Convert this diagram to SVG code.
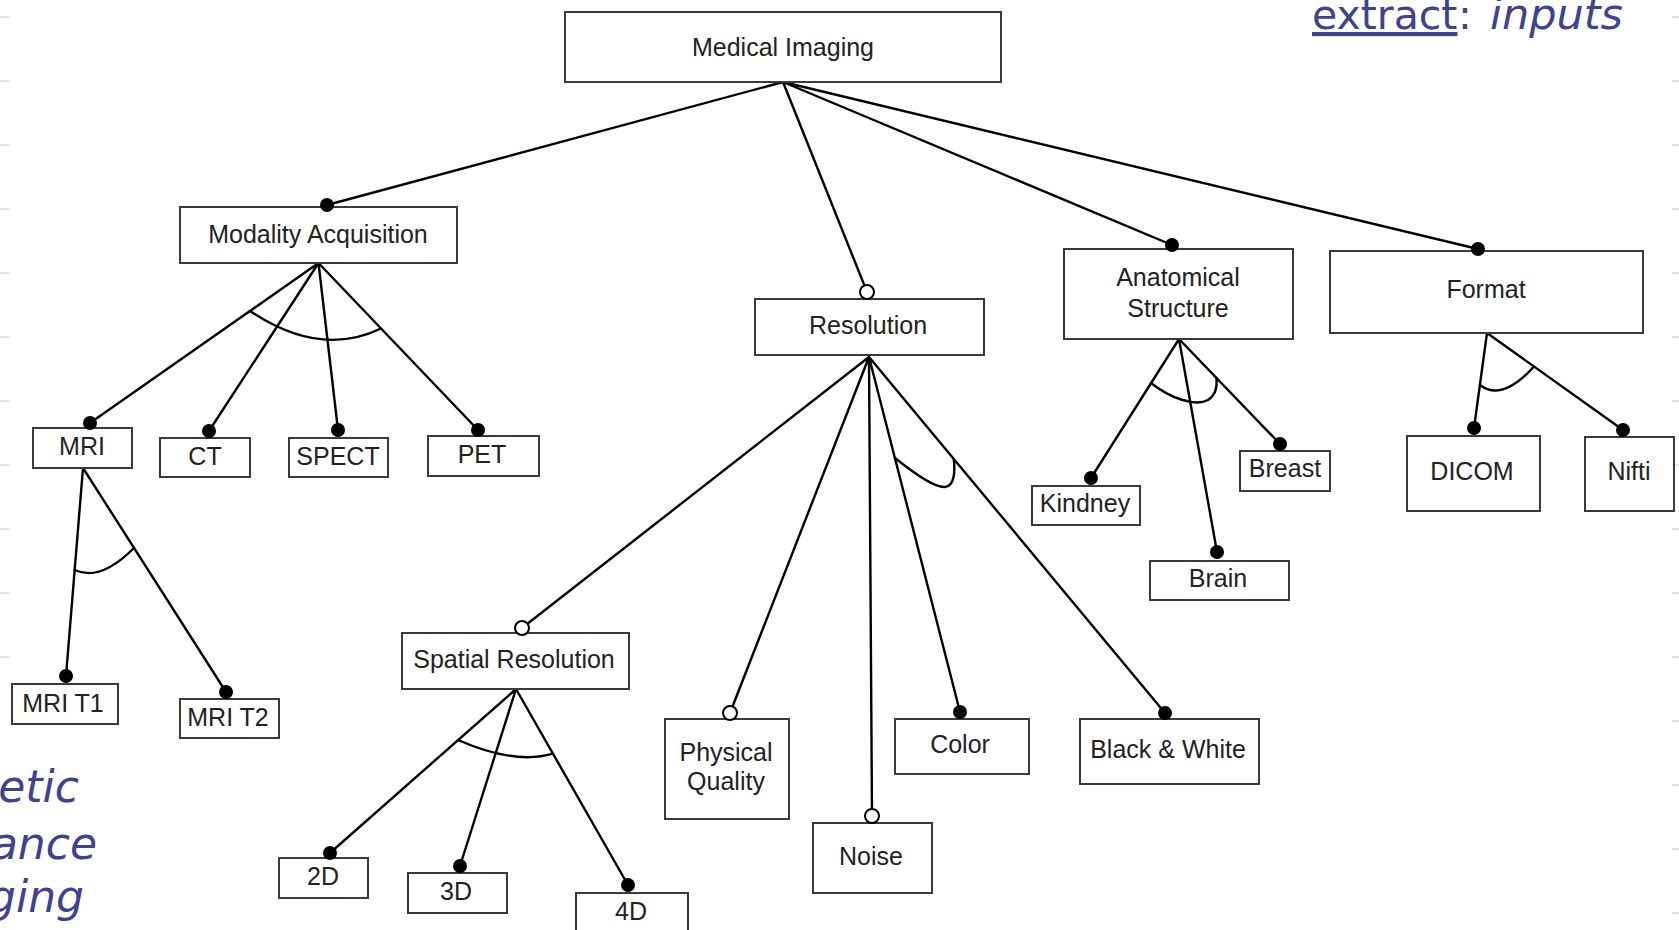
<svg xmlns="http://www.w3.org/2000/svg" width="1679" height="930" viewBox="0 0 1679 930">
<style>
.box{fill:#fff;stroke:#3a3a3a;stroke-width:2}
.lbl{font-family:"Liberation Sans",Arial,sans-serif;font-size:25px;fill:#222;text-anchor:middle}
.conn{stroke:#000;stroke-width:2.4;fill:none;stroke-linecap:round}
.dot{fill:#000}
.open{fill:#fff;stroke:#000;stroke-width:2}
.slide{font-family:"DejaVu Sans","Liberation Sans",sans-serif;fill:#3e4291}
.tick{stroke:#c9d1f2;stroke-width:1.2}
</style>
<rect x="0" y="0" width="1679" height="930" fill="#fff"/>
<g id="slide-decoration">
<g class="tick">
<line x1="0" y1="17" x2="10" y2="17"/><line x1="0" y1="81" x2="10" y2="81"/><line x1="0" y1="145" x2="10" y2="145"/><line x1="0" y1="209" x2="10" y2="209"/><line x1="0" y1="273" x2="10" y2="273"/><line x1="0" y1="337" x2="10" y2="337"/><line x1="0" y1="401" x2="10" y2="401"/><line x1="0" y1="465" x2="10" y2="465"/><line x1="0" y1="529" x2="10" y2="529"/><line x1="0" y1="593" x2="10" y2="593"/><line x1="0" y1="657" x2="10" y2="657"/>
<line x1="1672" y1="17" x2="1679" y2="17"/><line x1="1672" y1="81" x2="1679" y2="81"/><line x1="1672" y1="145" x2="1679" y2="145"/><line x1="1672" y1="209" x2="1679" y2="209"/><line x1="1672" y1="273" x2="1679" y2="273"/><line x1="1672" y1="337" x2="1679" y2="337"/><line x1="1672" y1="401" x2="1679" y2="401"/><line x1="1672" y1="465" x2="1679" y2="465"/><line x1="1672" y1="529" x2="1679" y2="529"/><line x1="1672" y1="593" x2="1679" y2="593"/><line x1="1672" y1="657" x2="1679" y2="657"/><line x1="1672" y1="721" x2="1679" y2="721"/><line x1="1672" y1="785" x2="1679" y2="785"/><line x1="1672" y1="849" x2="1679" y2="849"/><line x1="1672" y1="913" x2="1679" y2="913"/>
</g>
<text class="slide" x="1312" y="29" font-size="41" text-decoration="underline">extract</text>
<text class="slide" x="1458" y="29" font-size="41">:</text>
<text class="slide" x="1490" y="29" font-size="43" font-style="italic">inputs</text>
<text class="slide" x="79" y="802" font-size="44" font-style="italic" text-anchor="end">etic</text>
<text class="slide" x="97" y="859" font-size="44" font-style="italic" text-anchor="end">ance</text>
<text class="slide" x="84" y="912" font-size="44" font-style="italic" text-anchor="end">ging</text>
</g>
<g id="connectors">
<path class="conn" d="M783,82 L327,205 M783,82 L867,292 M783,82 L1172,245 M783,82 L1478,249"/>
<path class="conn" d="M318.5,263 L90,423 M318.5,263 L209,431 M318.5,263 L338,430 M318.5,263 L478,430"/>
<path class="conn" d="M250,311 Q320,358 381,328.5"/>
<path class="conn" d="M83,468 L66,676 M83,468 L226,692"/>
<path class="conn" d="M74.7,570 Q100,582 134,548"/>
<path class="conn" d="M869,357 L522,628 M869,357 L730,713 M869,357 L872,816 M869,357 L960,712 M869,357 L1165,713"/>
<path class="conn" d="M895,458 C915,474 935,488 945,487 C955,486 955,470 953.8,459"/>
<path class="conn" d="M516,689 L330,853 M516,689 L460,866 M516,689 L628,885"/>
<path class="conn" d="M458,740 Q515,765 553,753.7"/>
<path class="conn" d="M1179,339 L1091,478 M1179,339 L1217,552 M1179,339 L1280,444"/>
<path class="conn" d="M1151,383 C1170,398 1195,407 1208,400 C1217,394 1217,385 1216.5,378"/>
<path class="conn" d="M1487,333 L1474,428 M1487,333 L1623,430"/>
<path class="conn" d="M1480,385 Q1502,402 1534,366.5"/>
</g>
<g id="n-medical-imaging"><rect class="box" x="565" y="12" width="436" height="70"/><text class="lbl" x="783" y="56">Medical Imaging</text></g>
<g id="n-modality"><rect class="box" x="180" y="207" width="277" height="56"/><text class="lbl" x="318" y="243">Modality Acquisition</text><circle class="dot" cx="327" cy="205" r="7"/></g>
<g id="n-mri"><rect class="box" x="33" y="428" width="99" height="40"/><text class="lbl" x="82" y="455">MRI</text><circle class="dot" cx="90" cy="423" r="7"/></g>
<g id="n-ct"><rect class="box" x="160" y="438" width="90" height="39"/><text class="lbl" x="205" y="465">CT</text><circle class="dot" cx="209" cy="431" r="7"/></g>
<g id="n-spect"><rect class="box" x="289" y="438" width="99" height="39"/><text class="lbl" x="338" y="465">SPECT</text><circle class="dot" cx="338" cy="430" r="7"/></g>
<g id="n-pet"><rect class="box" x="428" y="436" width="111" height="40"/><text class="lbl" x="482" y="463">PET</text><circle class="dot" cx="478" cy="430" r="7"/></g>
<g id="n-mri-t1"><rect class="box" x="12" y="684" width="106" height="40"/><text class="lbl" x="63" y="712">MRI T1</text><circle class="dot" cx="66" cy="676" r="7"/></g>
<g id="n-mri-t2"><rect class="box" x="180" y="699" width="99" height="39"/><text class="lbl" x="228" y="726">MRI T2</text><circle class="dot" cx="226" cy="692" r="7"/></g>
<g id="n-resolution"><rect class="box" x="755" y="299" width="229" height="56"/><text class="lbl" x="868" y="334">Resolution</text><circle class="open" cx="867" cy="292" r="7"/></g>
<g id="n-spatial"><rect class="box" x="402" y="633" width="227" height="56"/><text class="lbl" x="514" y="668">Spatial Resolution</text><circle class="open" cx="522" cy="628" r="7"/></g>
<g id="n-2d"><rect class="box" x="279" y="858" width="89" height="40"/><text class="lbl" x="323" y="885">2D</text><circle class="dot" cx="330" cy="853" r="7"/></g>
<g id="n-3d"><rect class="box" x="408" y="873" width="99" height="40"/><text class="lbl" x="456" y="900">3D</text><circle class="dot" cx="460" cy="866" r="7"/></g>
<g id="n-4d"><rect class="box" x="576" y="893" width="112" height="50"/><text class="lbl" x="631" y="920">4D</text><circle class="dot" cx="628" cy="885" r="7"/></g>
<g id="n-physical-quality"><rect class="box" x="665" y="719" width="124" height="100"/><text class="lbl" x="726" y="761">Physical</text><text class="lbl" x="726" y="790">Quality</text><circle class="open" cx="730" cy="713" r="7"/></g>
<g id="n-noise"><rect class="box" x="813" y="823" width="119" height="70"/><text class="lbl" x="871" y="865">Noise</text><circle class="open" cx="872" cy="816" r="7"/></g>
<g id="n-color"><rect class="box" x="895" y="719" width="134" height="55"/><text class="lbl" x="960" y="753">Color</text><circle class="dot" cx="960" cy="712" r="7"/></g>
<g id="n-bw"><rect class="box" x="1080" y="719" width="179" height="65"/><text class="lbl" x="1168" y="758">Black &amp; White</text><circle class="dot" cx="1165" cy="713" r="7"/></g>
<g id="n-anatomical"><rect class="box" x="1064" y="249" width="229" height="90"/><text class="lbl" x="1178" y="286">Anatomical</text><text class="lbl" x="1178" y="317">Structure</text><circle class="dot" cx="1172" cy="245" r="7"/></g>
<g id="n-format"><rect class="box" x="1330" y="251" width="313" height="82"/><text class="lbl" x="1486" y="298">Format</text><circle class="dot" cx="1478" cy="249" r="7"/></g>
<g id="n-kindney"><rect class="box" x="1032" y="486" width="108" height="39"/><text class="lbl" x="1085" y="512">Kindney</text><circle class="dot" cx="1091" cy="478" r="7"/></g>
<g id="n-breast"><rect class="box" x="1240" y="451" width="90" height="40"/><text class="lbl" x="1285" y="477">Breast</text><circle class="dot" cx="1280" cy="444" r="7"/></g>
<g id="n-brain"><rect class="box" x="1150" y="561" width="139" height="39"/><text class="lbl" x="1218" y="587">Brain</text><circle class="dot" cx="1217" cy="552" r="7"/></g>
<g id="n-dicom"><rect class="box" x="1407" y="436" width="133" height="75"/><text class="lbl" x="1472" y="480">DICOM</text><circle class="dot" cx="1474" cy="428" r="7"/></g>
<g id="n-nifti"><rect class="box" x="1585" y="437" width="89" height="74"/><text class="lbl" x="1629" y="480">Nifti</text><circle class="dot" cx="1623" cy="430" r="7"/></g>
</svg>
